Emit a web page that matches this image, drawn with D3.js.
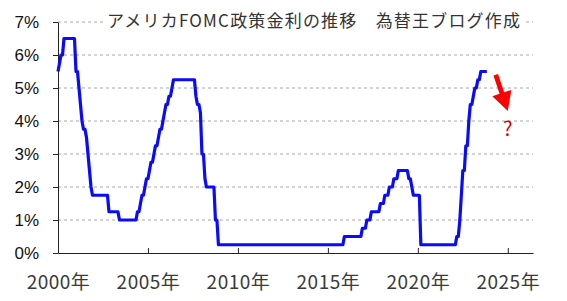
<!DOCTYPE html>
<html>
<head>
<meta charset="utf-8">
<script src="https://d3js.org/d3.v7.min.js"></script>
<style>
    body { margin: 0; background: #fff; }
    svg text { font-family: "Noto Sans CJK JP", "Liberation Sans", sans-serif; }
    .ylab text { font-family: "Liberation Sans", Arial, sans-serif; font-size: 17px; fill: #111; }
    .xlab text { font-size: 19px; fill: #3a3a3a; letter-spacing: 0.5px; }
</style>
</head>
<body>
<svg id="svg"></svg>
<script>
    let visWidth = 567;
    let visHeight = 301;

    // month-end policy rate (upper bound), only the points where the line bends
    let months = [
        '2000-01','2000-02','2000-03','2000-04','2000-05','2000-12',
        '2001-01','2001-02','2001-03','2001-04','2001-05','2001-06','2001-07','2001-08','2001-09','2001-10','2001-11','2001-12',
        '2002-10','2002-11','2003-05','2003-06','2004-05','2004-06','2004-07','2004-08','2004-09','2004-10','2004-11','2004-12',
        '2005-01','2005-02','2005-03','2005-04','2005-05','2005-06','2005-07','2005-08','2005-09','2005-10','2005-11','2005-12',
        '2006-01','2006-02','2006-03','2006-04','2006-05','2006-06',
        '2007-08','2007-09','2007-10','2007-11','2007-12',
        '2008-01','2008-02','2008-03','2008-04','2008-09','2008-10','2008-11','2008-12',
        '2015-11','2015-12','2016-11','2016-12','2017-02','2017-03','2017-05','2017-06','2017-11','2017-12',
        '2018-02','2018-03','2018-05','2018-06','2018-08','2018-09','2018-11','2018-12',
        '2019-06','2019-07','2019-08','2019-09','2019-10','2020-02','2020-03',
        '2022-02','2022-03','2022-04','2022-05','2022-06','2022-07','2022-08','2022-09','2022-10','2022-11','2022-12',
        '2023-01','2023-02','2023-03','2023-04','2023-05','2023-06','2023-07','2023-11'
    ];
    let rates = [
        5.5, 5.75, 6.0, 6.0, 6.5, 6.5,
        5.5, 5.5, 5.0, 4.5, 4.0, 3.75, 3.75, 3.5, 3.0, 2.5, 2.0, 1.75,
        1.75, 1.25, 1.25, 1.0, 1.0, 1.25, 1.25, 1.5, 1.75, 1.75, 2.0, 2.25,
        2.25, 2.5, 2.75, 2.75, 3.0, 3.25, 3.25, 3.5, 3.75, 3.75, 4.0, 4.25,
        4.5, 4.5, 4.75, 4.75, 5.0, 5.25,
        5.25, 4.75, 4.5, 4.5, 4.25,
        3.0, 3.0, 2.25, 2.0, 2.0, 1.0, 1.0, 0.25,
        0.25, 0.5, 0.5, 0.75, 0.75, 1.0, 1.0, 1.25, 1.25, 1.5,
        1.5, 1.75, 1.75, 2.0, 2.0, 2.25, 2.25, 2.5,
        2.5, 2.25, 2.25, 2.0, 1.75, 1.75, 0.25,
        0.25, 0.5, 0.5, 1.0, 1.75, 2.5, 2.5, 3.25, 3.25, 4.0, 4.5,
        4.5, 4.75, 5.0, 5.0, 5.25, 5.25, 5.5, 5.5
    ];
    let yTicks = [0, 1, 2, 3, 4, 5, 6, 7];
    let xTicks = [2000, 2005, 2010, 2015, 2020, 2025];
    let title = 'アメリカFOMC政策金利の推移\u3000為替王ブログ作成';
    // arrow annotation: [year, rate] start and tip
    let arrowFrom = [2024.33, 5.4];
    let arrowTo = [2025.0, 4.3];
    let questionAt = [2025.0, 3.55];

    let data = months.map((m, i) => {
        let p = m.split('-');
        return { t: +p[0] + (+p[1] - 1) / 12, v: rates[i] };
    });

    let svg = d3.select('#svg').attr('width', visWidth).attr('height', visHeight);

    let xScale = d3.scaleLinear().domain([2000, 2026.4]).range([58, 533]);
    let yScale = d3.scaleLinear().domain([0, 7]).range([253, 22]);

    // dashed grid
    svg.append('g')
        .selectAll('line')
        .data(yTicks.filter(d => d > 0))
        .join('line')
        .attr('x1', xScale(2000)).attr('x2', xScale(2026.4))
        .attr('y1', d => yScale(d)).attr('y2', d => yScale(d))
        .attr('stroke', '#a8a8a8')
        .attr('stroke-dasharray', '3,3');

    // title on white box
    let titleText = svg.append('text')
        .attr('x', 107).attr('y', 27)
        .attr('font-size', 17)
        .attr('fill', '#333')
        .text(title);
    titleText.attr('textLength', 413).attr('lengthAdjust', 'spacing');
    svg.insert('rect', 'text')
        .attr('x', 103).attr('y', 10)
        .attr('width', 421).attr('height', 22)
        .attr('fill', '#fff');

    // axes
    let yAxis = d3.axisLeft(yScale).tickValues(yTicks).tickSize(5).tickSizeOuter(0)
        .tickPadding(14).tickFormat(d => d + '%');
    let yg = svg.append('g').attr('class', 'ylab')
        .attr('transform', `translate(${xScale(2000)},0)`)
        .call(yAxis);
    yg.selectAll('line').attr('stroke', '#222');
    yg.select('.domain').attr('stroke', '#222');

    let xAxis = d3.axisBottom(xScale).tickValues(xTicks).tickSizeInner(-5).tickSizeOuter(0)
        .tickPadding(23).tickFormat(d => d + '年');
    let xg = svg.append('g').attr('class', 'xlab')
        .attr('transform', `translate(0,${yScale(0)})`)
        .call(xAxis);
    xg.selectAll('line').attr('stroke', '#222');
    xg.select('.domain').attr('stroke', '#222');

    // rate line
    let line = d3.line().x(d => xScale(d.t)).y(d => yScale(d.v));
    svg.append('path')
        .datum(data)
        .attr('d', line)
        .attr('fill', 'none')
        .attr('stroke', '#0a0aff')
        .attr('stroke-width', 3.2)
        .attr('stroke-linejoin', 'round');

    // red arrow
    let ax0 = xScale(arrowFrom[0]), ay0 = yScale(arrowFrom[1]);
    let ax1 = xScale(arrowTo[0]), ay1 = yScale(arrowTo[1]);
    let ang = Math.atan2(ay1 - ay0, ax1 - ax0);
    let headLen = 19, headW = 10, shaftW = 2.4;
    let ux = Math.cos(ang), uy = Math.sin(ang), nx = -uy, ny = ux;
    let bx = ax1 - ux * headLen, by = ay1 - uy * headLen;
    let pts = [
        [ax0 + nx * shaftW, ay0 + ny * shaftW],
        [bx + nx * shaftW, by + ny * shaftW],
        [bx + nx * headW, by + ny * headW],
        [ax1, ay1],
        [bx - nx * headW, by - ny * headW],
        [bx - nx * shaftW, by - ny * shaftW],
        [ax0 - nx * shaftW, ay0 - ny * shaftW]
    ];
    svg.append('path')
        .attr('d', 'M' + pts.map(p => p.join(',')).join('L') + 'Z')
        .attr('fill', '#ff0000');

    svg.append('text')
        .attr('x', xScale(questionAt[0])).attr('y', yScale(questionAt[1]))
        .attr('text-anchor', 'middle')
        .attr('font-family', '"Liberation Serif", serif')
        .attr('font-size', 20)
        .attr('fill', '#d40000')
        .text('?');
</script>
</body>
</html>
